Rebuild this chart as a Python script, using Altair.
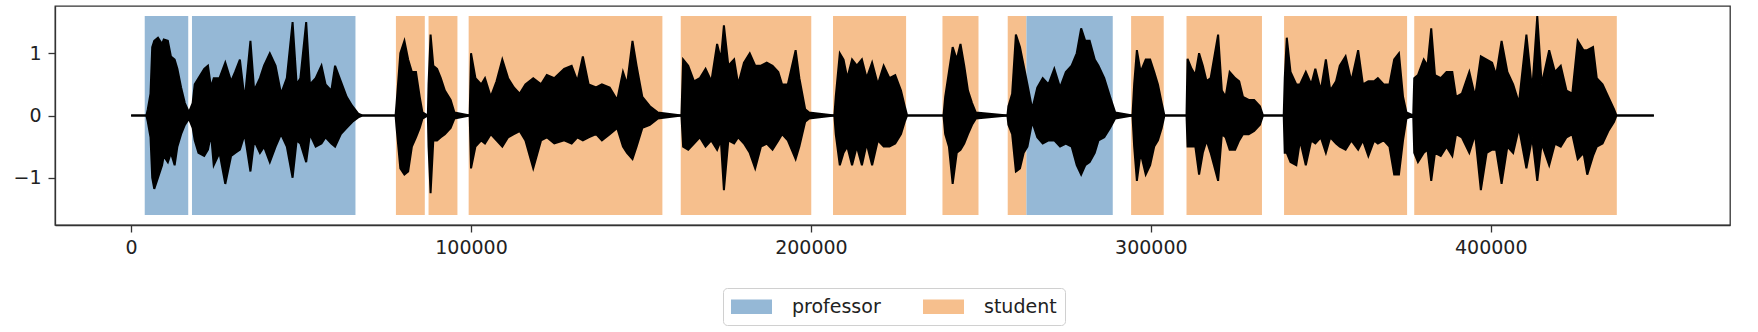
import altair as alt
import pandas as pd

# ---------------- data ----------------
seg_start = [4000, 17900, 77900, 87500, 99300, 161700, 206500, 238700, 257900, 263400, 294200, 310500, 339200, 377500]
seg_end = [16800, 66000, 86400, 96000, 156300, 200100, 228000, 249300, 263400, 288800, 303800, 332700, 375400, 437100]
seg_speaker = ["professor", "professor", "student", "student", "student", "student", "student",
               "student", "student", "professor", "student", "student", "student", "student"]

n_samples = 448000
shade_lo, shade_hi = -1.6, 1.6

# waveform envelope (sample index, upper, lower) read per speech segment
wave_prof1 = [(0, 0, 0), (4500, 0, 0), (4900, 0.1, -0.1), (5700, 0.35, -0.35), (6200, 1.1, -1.0),
              (6800, 1.2, -1.18), (7900, 1.25, -1.0), (9100, 1.15, -0.8), (9600, 1.22, -0.65),
              (10800, 1.2, -0.75), (11700, 0.95, -0.6), (12800, 0.9, -0.8), (13600, 0.75, -0.5),
              (14700, 0.45, -0.3), (15800, 0.2, -0.15), (17000, 0.05, -0.05)]
wave_prof2 = [(18100, 0.2, -0.2), (18700, 0.5, -0.4), (19800, 0.6, -0.6), (21500, 0.75, -0.65),
              (22600, 0.8, -0.55), (23500, 0.45, -0.3), (24300, 0.6, -0.8), (26000, 0.6, -0.6),
              (27700, 0.85, -1.1), (29400, 0.55, -0.65), (30600, 0.7, -0.6), (32000, 0.9, -0.55),
              (33400, 0.25, -0.3), (35100, 1.2, -0.9), (36200, 0.4, -0.4), (37900, 0.6, -0.6),
              (39100, 0.8, -0.5), (40800, 1.0, -0.75), (42500, 0.8, -0.5), (44100, 0.35, -0.3),
              (45800, 0.6, -0.5), (47500, 1.5, -1.0), (48700, 0.5, -0.4), (49800, 0.6, -0.45),
              (51500, 1.5, -0.75), (52600, 0.5, -0.3), (54300, 0.6, -0.5), (56000, 0.8, -0.45),
              (57200, 0.5, -0.35), (58900, 0.4, -0.45), (60000, 0.8, -0.5), (61700, 0.55, -0.3),
              (63400, 0.3, -0.2), (65100, 0.15, -0.1), (66800, 0.03, -0.03), (68000, 0, 0)]
wave_stud1 = [(77800, 0, 0), (78100, 0.2, -0.2), (79200, 1.0, -0.85), (80400, 1.2, -0.95),
              (81500, 0.9, -0.9), (82600, 0.7, -0.5), (83800, 0.7, -0.35), (84900, 0.3, -0.2),
              (85700, 0.05, -0.05)]
wave_stud2 = [(87300, 0, 0), (87500, 0.5, -0.5), (88100, 1.3, -1.25), (88900, 0.8, -0.4),
              (90000, 0.75, -0.4), (91100, 0.6, -0.35), (92300, 0.4, -0.3), (94000, 0.25, -0.2),
              (95100, 0.05, -0.05)]
wave_stud3 = [(99600, 0, 0), (100000, 1.0, -0.85), (101300, 0.6, -0.5), (103000, 0.5, -0.4),
              (104100, 0.6, -0.45), (105800, 0.3, -0.3), (107500, 0.55, -0.4), (109200, 0.9, -0.5),
              (110900, 0.6, -0.35), (112600, 0.45, -0.3), (114300, 0.35, -0.25), (116000, 0.5, -0.4),
              (118300, 0.6, -0.85), (120600, 0.5, -0.4), (122300, 0.65, -0.35), (124500, 0.6, -0.45),
              (127400, 0.75, -0.4), (129600, 0.8, -0.45), (131300, 0.55, -0.35), (132900, 0.95, -0.4),
              (134600, 0.5, -0.35), (136800, 0.45, -0.3), (138500, 0.5, -0.4), (140800, 0.45, -0.3),
              (143000, 0.25, -0.2), (144700, 0.7, -0.5), (145900, 0.5, -0.6), (147500, 1.2, -0.7),
              (148700, 0.8, -0.5), (150400, 0.3, -0.2), (152600, 0.15, -0.15), (154900, 0.05, -0.05)]
wave_stud4 = [(161900, 0, 0), (162400, 0.9, -0.5), (163900, 0.8, -0.55), (165600, 0.55, -0.45),
              (167300, 0.6, -0.35), (169000, 0.75, -0.5), (170700, 0.55, -0.4), (172400, 1.15, -0.55),
              (173500, 0.9, -0.4), (174400, 1.45, -1.2), (175700, 0.8, -0.4), (177400, 0.9, -0.45),
              (178600, 0.5, -0.35), (180300, 0.85, -0.45), (182000, 1.0, -0.6), (183600, 0.8, -0.85),
              (185300, 0.8, -0.5), (187000, 0.85, -0.45), (188700, 0.8, -0.55), (190400, 0.7, -0.4),
              (191500, 0.5, -0.3), (193200, 0.5, -0.4), (195500, 1.05, -0.7), (196600, 0.6, -0.5),
              (198300, 0.1, -0.1), (199400, 0.05, -0.05)]
wave_stud5 = [(206900, 0, 0), (207300, 0.3, -0.3), (208500, 1.0, -0.8), (209600, 0.9, -0.6),
              (210700, 0.6, -0.5), (212100, 0.9, -0.8), (213500, 0.8, -0.5), (215000, 0.9, -0.8),
              (216400, 0.6, -0.45), (218000, 0.85, -0.8), (219700, 0.5, -0.4), (221400, 0.8, -0.5),
              (223100, 0.6, -0.5), (224800, 0.65, -0.45), (226500, 0.4, -0.3), (227600, 0.15, -0.1),
              (228300, 0, 0)]
wave_stud6 = [(239000, 0, 0), (239500, 0.3, -0.3), (240600, 0.7, -0.5), (241700, 1.1, -1.1),
              (242900, 0.9, -0.6), (244000, 1.15, -0.55), (245100, 0.8, -0.45), (246200, 0.4, -0.3),
              (247400, 0.2, -0.15), (248500, 0.05, -0.05)]
wave_prof3 = [(257800, 0, 0), (258100, 0.15, -0.15), (259200, 0.35, -0.3), (260300, 1.3, -0.9),
              (261500, 1.1, -0.85), (262600, 0.8, -0.6), (263700, 0.5, -0.5), (265100, 0.1, -0.1),
              (266600, 0.45, -0.35), (268200, 0.6, -0.45), (269900, 0.5, -0.4), (271600, 0.75, -0.4),
              (273300, 0.45, -0.5), (275000, 0.7, -0.45), (276700, 0.8, -0.5), (278200, 1.0, -0.8),
              (279500, 1.4, -0.95), (280700, 1.2, -0.8), (282000, 1.2, -0.75), (283500, 0.9, -0.6),
              (284600, 0.8, -0.4), (286300, 0.6, -0.35), (288000, 0.3, -0.2), (289500, 0.05, -0.05)]
wave_stud8 = [(294600, 0, 0), (295100, 0.5, -0.5), (295900, 1.05, -1.05), (297000, 0.7, -0.6),
              (298500, 0.9, -0.95), (299800, 0.9, -0.8), (301000, 0.7, -0.5), (302100, 0.5, -0.4),
              (303200, 0.2, -0.2), (304000, 0, 0)]
wave_stud9 = [(310500, 0, 0), (310800, 0.91, -0.5), (312000, 0.75, -0.5), (313100, 0.65, -0.5),
              (314200, 1.0, -0.95), (315300, 0.8, -0.6), (316400, 0.55, -0.4), (317600, 0.6, -0.6),
              (319800, 1.3, -1.05), (320900, 0.4, -0.3), (322000, 0.3, -0.35), (323200, 0.7, -0.55),
              (324800, 0.6, -0.55), (326000, 0.55, -0.4), (327100, 0.3, -0.3), (328800, 0.25, -0.3),
              (330400, 0.25, -0.25), (332100, 0.15, -0.15), (333000, 0, 0)]
wave_stud10 = [(339100, 0, 0), (339400, 0.6, -0.6), (340000, 1.25, -0.6), (341100, 0.7, -0.75),
               (342800, 0.5, -0.8), (343900, 0.5, -0.4), (345600, 0.7, -0.8), (347200, 0.5, -0.4),
               (348400, 0.75, -0.45), (350000, 0.4, -0.35), (351500, 0.9, -0.6), (352800, 0.4, -0.35),
               (354500, 0.55, -0.45), (355600, 0.8, -0.5), (357300, 0.95, -0.55), (359000, 0.55, -0.4),
               (361000, 1.05, -0.55), (362400, 0.5, -0.4), (364000, 0.55, -0.65), (365700, 0.55, -0.4),
               (366800, 0.6, -0.45), (368500, 0.5, -0.4), (370200, 0.5, -0.5), (371600, 0.9, -0.95),
               (373000, 1.0, -0.95), (374200, 0.3, -0.4), (375200, 0.05, -0.05)]
wave_stud11 = [(377200, 0, 0), (377500, 0.6, -0.6), (378600, 0.65, -0.75), (380300, 0.9, -0.6),
               (381400, 0.8, -0.55), (382500, 1.4, -1.05), (383600, 0.65, -0.6), (385300, 0.6, -0.65),
               (387000, 0.7, -0.5), (388700, 0.7, -0.65), (389800, 0.3, -0.3), (391500, 0.35, -0.35),
               (393700, 0.7, -0.6), (395400, 0.3, -0.3), (397100, 0.95, -1.2), (398800, 0.9, -0.6),
               (400400, 0.85, -0.55), (401600, 0.65, -0.55), (403200, 1.2, -1.1), (404900, 0.7, -0.5),
               (406600, 0.5, -0.6), (408300, 0.2, -0.2), (410500, 1.3, -0.85), (412200, 0.4, -0.35),
               (413700, 1.6, -1.05), (415000, 0.5, -0.45), (417200, 1.05, -0.8), (418900, 0.7, -0.45),
               (420600, 0.8, -0.5), (422300, 0.4, -0.35), (424000, 0.35, -0.3), (425600, 1.2, -0.7),
               (427300, 1.05, -0.6), (428400, 1.05, -0.95), (430100, 1.1, -0.65), (431200, 0.6, -0.5),
               (432900, 0.5, -0.45), (434600, 0.3, -0.25), (436300, 0.1, -0.1), (437000, 0, 0),
               (448000, 0, 0)]

x_ticks = [0, 100000, 200000, 300000, 400000]
y_ticks = [-1, 0, 1]

speakers = ["professor", "student"]
speaker_colors = ["#95b8d6", "#f6bf8d"]

# ---------------- tables ----------------
seg_df = pd.DataFrame({"start": seg_start, "end": seg_end, "speaker": seg_speaker,
                       "lo": shade_lo, "hi": shade_hi})
all_wave = (wave_prof1 + wave_prof2 + wave_stud1 + wave_stud2 + wave_stud3 + wave_stud4 +
            wave_stud5 + wave_stud6 + wave_prof3 + wave_stud8 + wave_stud9 + wave_stud10 + wave_stud11)
wave_df = pd.DataFrame(all_wave, columns=["x", "hi", "lo"])
base_df = pd.DataFrame({"x": [0, n_samples], "y": [0, 0]})

margin = 0.05 * n_samples
x_scale = alt.Scale(domain=[-margin, n_samples + margin], nice=False, zero=False)
y_scale = alt.Scale(domain=[-1.76, 1.76], nice=False, zero=False)

x_axis = alt.Axis(values=x_ticks, format="d", title=None)
y_axis = alt.Axis(values=y_ticks, format="d", title=None)

shade = alt.Chart(seg_df).mark_rect(opacity=1).encode(
    x=alt.X("start:Q", scale=x_scale, axis=x_axis),
    x2="end:Q",
    y=alt.Y("lo:Q", scale=y_scale, axis=y_axis),
    y2="hi:Q",
    color=alt.Color(
        "speaker:N",
        scale=alt.Scale(domain=speakers, range=speaker_colors),
        legend=alt.Legend(
            title=None,
            orient="none",
            legendX=668,
            legendY=282,
            direction="horizontal",
            symbolType="M-2,-0.7L2,-0.7L2,0.7L-2,0.7Z",
            symbolSize=420,
            symbolStrokeWidth=0,
            symbolOpacity=1,
            symbolOffset=10,
            labelOffset=30,
            labelFontSize=19,
            labelFont="DejaVu Sans",
            labelColor="#222222",
            columnPadding=42,
            padding=8,
            strokeColor="#d0d0d0",
            cornerRadius=4,
            fillColor="white",
        ),
    ),
)

baseline = alt.Chart(base_df).mark_line(color="black", strokeWidth=2.2).encode(
    x=alt.X("x:Q", scale=x_scale, axis=x_axis),
    y=alt.Y("y:Q", scale=y_scale, axis=y_axis),
)

wave = alt.Chart(wave_df).mark_area(color="black", stroke="black", strokeWidth=2,
                                    interpolate="linear").encode(
    x=alt.X("x:Q", scale=x_scale, axis=x_axis),
    y=alt.Y("hi:Q", scale=y_scale, axis=y_axis),
    y2="lo:Q",
)

chart = alt.layer(shade, baseline, wave).properties(
    width=1675,
    height=219,
    padding={"left": 55, "top": 6, "right": 28, "bottom": 107},
    autosize=alt.AutoSizeParams(type="none"),
    background="white",
).configure_view(
    stroke="#333333", strokeWidth=1.3
).configure_axis(
    grid=False,
    domainColor="#333333",
    domainWidth=1.3,
    tickColor="#333333",
    tickWidth=1.3,
    tickSize=7,
    labelFontSize=19,
    labelFont="DejaVu Sans",
    labelColor="#222222",
    labelPadding=6,
).configure_axisY(
    labelPadding=7
)

chart.save("out.html", embed_options={"renderer": "svg", "actions": False})
